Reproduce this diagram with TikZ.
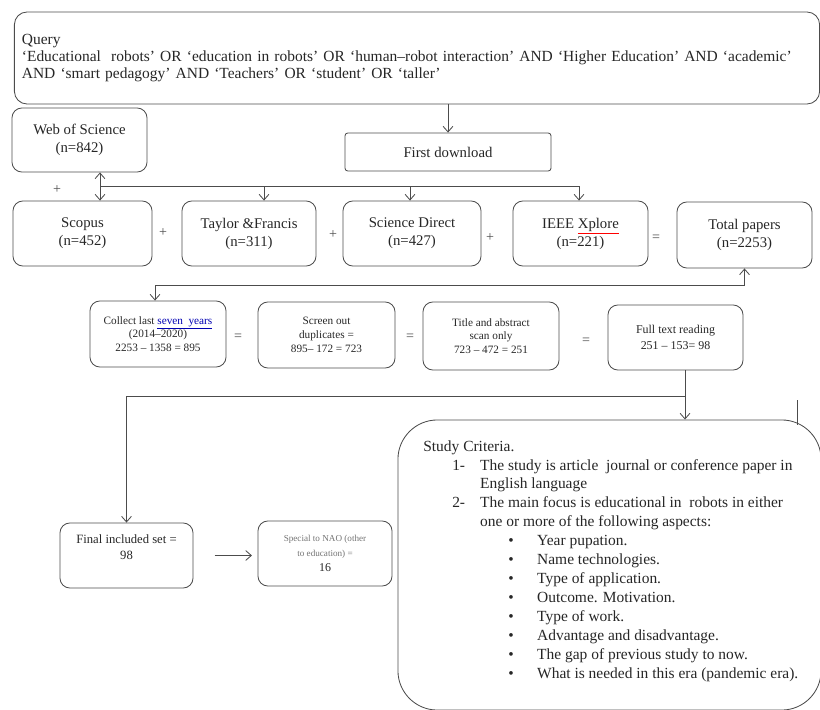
\documentclass[tikz,border=0pt]{standalone}
\usepackage{fontspec}
\setmainfont{Liberation Serif}
\usepackage{tikz}
\usetikzlibrary{shapes.geometric, arrows.meta, positioning, calc}
\tikzstyle{arrow} = [line width=0.6pt, draw=black!70, -{Straight Barb[length=4pt,width=7pt]}]
\newcommand{\critnum}[2]{\hspace*{20.6pt}\makebox[19.9pt][l]{#1}#2}
\newcommand{\critbullet}[1]{\hspace*{60.5pt}\makebox[20.5pt][l]{\textbullet}#1}

\begin{document}
\begin{tikzpicture}[
    x=0.025cm, y=-0.025cm,
    box/.style={draw=black!70, line width=0.6pt, rounded corners=7pt, align=center, inner sep=2pt, text=black!85},
    dbbox/.style={box, minimum width=3.4cm, minimum height=1.625cm, font=\fontsize{10.5}{12.8}\selectfont},
    stagebox/.style={box, minimum width=3.4cm, minimum height=1.65cm, font=\fontsize{8}{9.8}\selectfont},
    sign/.style={font=\fontsize{10}{12}\selectfont, text=black!70, inner sep=0pt},
    line/.style={line width=0.6pt, draw=black!70}
  ]
  \useasboundingbox (0,0) rectangle (820,709);

  % Query
  \node (query) [box, rounded corners=9pt, minimum width=20.125cm, minimum height=2.3cm, text width=19.75cm, align=left, font=\fontsize{11}{11.8}\selectfont] at (417,58) {Query\\`Educational\ \ robots' OR `education in robots' OR `human–robot interaction' AND `Higher Education' AND `academic'\\AND `smart pedagogy' AND `Teachers' OR `student' OR `taller'};

  % Databases
  \node (wos) [dbbox, minimum width=3.375cm, minimum height=1.6cm] at (79.5,140) {Web of Science\\(n=842)};
  \node (download) [box, rounded corners=2pt, minimum width=5.15cm, minimum height=0.95cm, font=\fontsize{10.5}{12.8}\selectfont] at (448,152) {First download};
  \node (scopus) [dbbox, minimum width=3.475cm] at (82.5,233.5) {Scopus\\(n=452)};
  \node (tandf) [dbbox, minimum width=3.35cm] at (249,233.5) {Taylor \&Francis\\(n=311)};
  \node (sdirect) [dbbox, minimum width=3.45cm] at (412,233.5) {Science Direct\\(n=427)};
  \node (ieee) [dbbox, minimum width=3.375cm] at (580.5,233.5) {IEEE {\color{red}\underline{\textcolor{black!85}{Xplore}}}\\(n=221)};
  \node (total) [dbbox, minimum width=3.375cm, minimum height=1.65cm] at (744.5,235) {Total papers\\(n=2253)};

  \node (plus_wos) [sign] at (57,190) {+};
  \node (plus_a) [sign] at (163,233) {+};
  \node (plus_b) [sign] at (333,235) {+};
  \node (plus_c) [sign] at (490,238) {+};
  \node (eq_total) [sign] at (656,238) {=};

  % Arrows for databases
  \draw [arrow] (download.north |- query.south) -- (download.north);
  \coordinate (bus_l) at (100,186);
  \coordinate (bus_tf) at (264,186);
  \coordinate (bus_sd) at (410,186);
  \coordinate (bus_r) at (579,186);
  \draw [line] (bus_l) -- (bus_r);
  \draw [arrow] (bus_l) -- (bus_l |- wos.south);
  \draw [arrow] (bus_l) -- (bus_l |- scopus.north);
  \draw [arrow] (bus_tf) -- (bus_tf |- tandf.north);
  \draw [arrow] (bus_sd) -- (bus_sd |- sdirect.north);
  \draw [arrow] (bus_r) -- (bus_r |- ieee.north);

  % Screening
  \node (collect) [stagebox] at (158,334) {Collect last {\color{blue!70!black}\underline{seven\ \ years}}\\(2014–2020)\\2253 – 1358 = 895};
  \node (screen) [stagebox, minimum width=3.425cm] at (326.5,335) {Screen out\\duplicates =\\895– 172 = 723};
  \node (title) [stagebox, minimum height=1.7cm] at (491,336) {Title and abstract\\scan only\\723 – 472 = 251};
  \node (fulltext) [stagebox, minimum width=3.375cm, minimum height=1.625cm, font=\fontsize{8.5}{11}\selectfont] at (675.5,337.5) {Full text reading\\251 – 153= 98};

  \node (eq_a) [sign] at (238,337) {=};
  \node (eq_b) [sign] at (410,337) {=};
  \node (eq_c) [sign] at (586,341) {=};

  \coordinate (bus2_l) at (155,285);
  \draw [line] (bus2_l) -- (bus2_l -| total.south);
  \draw [arrow] (bus2_l -| total.south) -- (total.south);
  \draw [arrow] (bus2_l) -- (bus2_l |- collect.north);

  % Results
  \node (final) [box, minimum width=3.325cm, minimum height=1.625cm, font=\fontsize{9}{12}\selectfont] at (126.5,555.5) {Final included set =\\98\\\mbox{}};
  \node (special) [box, minimum width=3.35cm, minimum height=1.625cm, font=\fontsize{6.5}{10.5}\selectfont, text=black!55] at (325,553.5) {Special to NAO (other\\to education) =\\{\fontsize{8.5}{10.5}\selectfont\color{black!85}16}};
  \node (study) [box, rounded corners=28pt, minimum width=10.575cm, minimum height=7.25cm] at (609.5,565) {};
  \node (criteria) [anchor=north west, align=left, inner sep=0pt, text=black!85, font=\fontsize{11}{13.5}\selectfont] at (423,440) {Study Criteria.\\
    \critnum{1-}{The study is article\ \ journal or conference paper in}\\
    \hspace*{40.5pt}English language\\
    \critnum{2-}{The main focus is educational in\ \ robots in either}\\
    \hspace*{40.5pt}one or more of the following aspects:\\
    \critbullet{Year pupation.}\\
    \critbullet{Name technologies.}\\
    \critbullet{Type of application.}\\
    \critbullet{Outcome. Motivation.}\\
    \critbullet{Type of work.}\\
    \critbullet{Advantage and disadvantage.}\\
    \critbullet{The gap of previous study to now.}\\
    \critbullet{What is needed in this era (pandemic era).}};

  % Arrows for results
  \coordinate (split) at (685,396);
  \draw [line] (split |- fulltext.south) -- (split);
  \draw [arrow] (split) -- (split |- study.north);
  \draw [arrow] (split) -| (final.north);
  \draw [arrow, shorten <=15pt, shorten >=4pt] (final.east) -- (final.east -| special.west);
  \draw [line] (797,400) -- (797,425);
\end{tikzpicture}
\end{document}
